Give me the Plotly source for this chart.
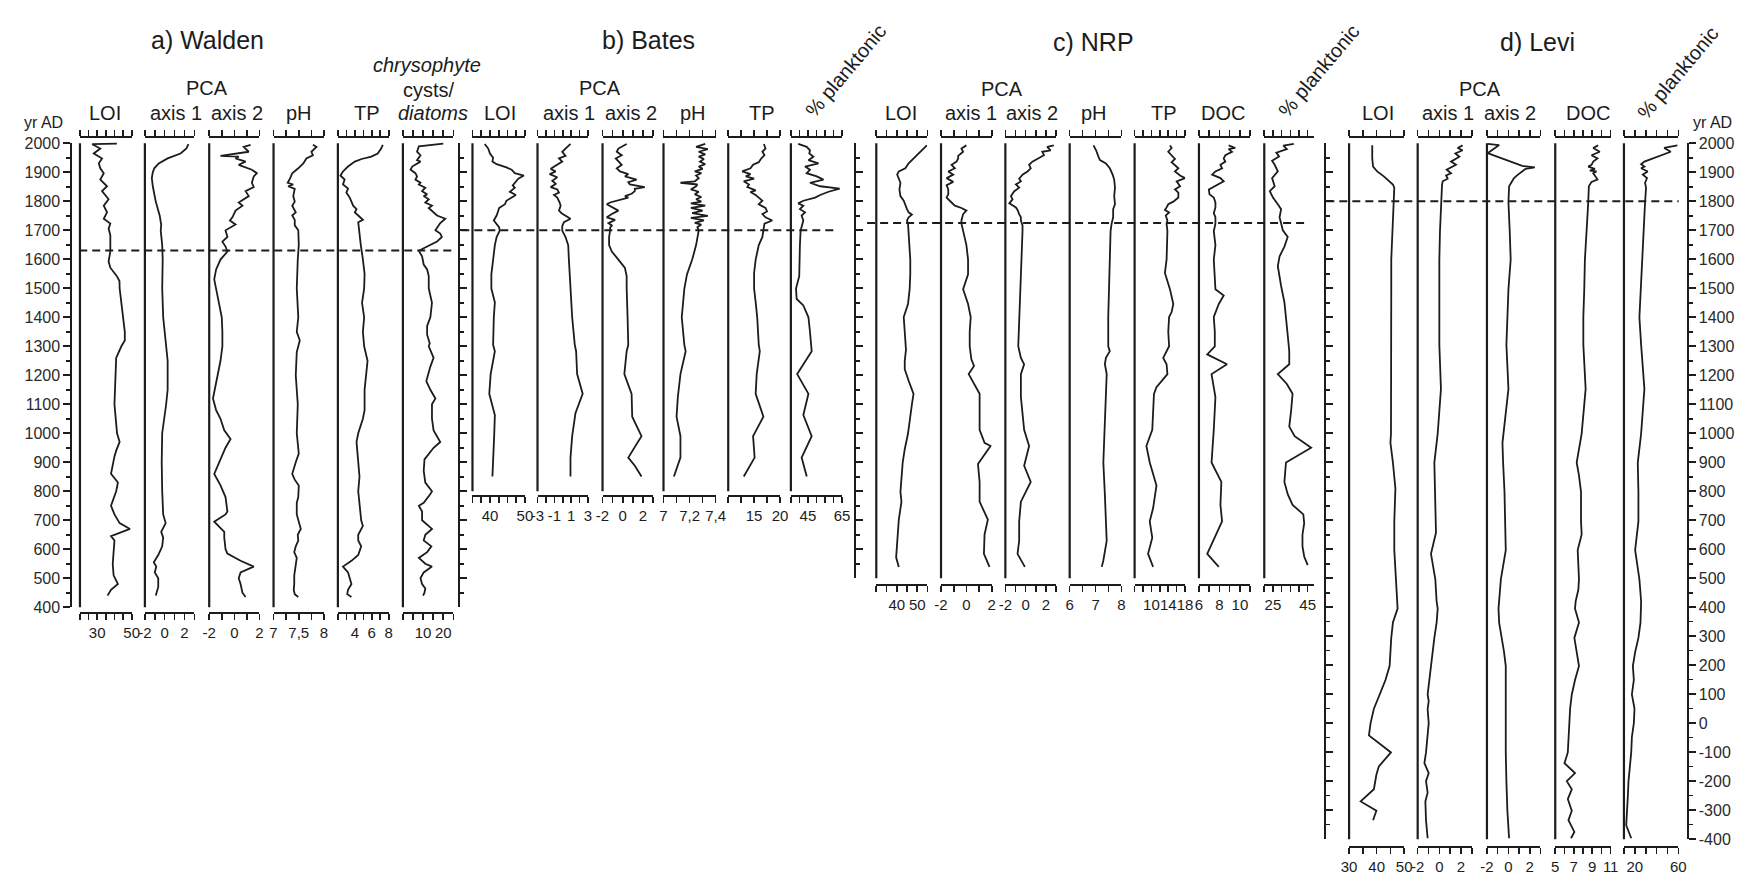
import plotly.graph_objects as go

W, H = 1753, 883
INK = "#1c1c1c"
FONT = "Liberation Sans, Arial, Helvetica, sans-serif"

# ---------------------------------------------------------------- data
# a) Walden
WALDEN_LOI_YR = [1999, 1997, 1982, 1965, 1948, 1931, 1914, 1897, 1875, 1852, 1835, 1807, 1785, 1762, 1740, 1723, 1706, 1683, 1627, 1593,
                 1571, 1542, 1525, 1500, 1450, 1400, 1350, 1320, 1300, 1260, 1200, 1100, 1000, 970, 940, 920, 860, 830, 800, 750,
                 720, 690, 670, 645, 630, 600, 550, 510, 480, 460, 440]
WALDEN_LOI = [41.4, 27.1, 31.8, 28.0, 32.8, 30.9, 31.8, 33.8, 31.8, 35.7, 32.8, 36.6, 33.8, 35.7, 33.8, 37.6, 36.6, 37.6, 37.6, 36.6,
              37.6, 41.4, 42.9, 43.0, 44.0, 45.0, 46.0, 46.0, 44.0, 41.0, 40.5, 40.0, 41.5, 43.0, 41.0, 40.0, 38.0, 42.0, 41.0, 38.0,
              40.0, 43.0, 49.0, 38.0, 40.0, 39.5, 39.0, 39.5, 42.0, 38.0, 36.0]
WALDEN_PCA1_YR = [1997, 1982, 1965, 1948, 1931, 1914, 1900, 1880, 1852, 1799, 1750, 1719, 1699, 1649, 1600, 1500, 1400, 1300, 1250, 1150,
                  1100, 1000, 900, 800, 720, 690, 660, 640, 610, 580, 555, 540, 520, 500, 470, 440]
WALDEN_PCA1 = [2.4, 2.2, 1.6, 0.3, -0.6, -1.05, -1.2, -1.3, -1.2, -0.9, -0.5, -0.35, -0.4, -0.25, -0.2, -0.25, -0.15, 0.1, 0.3, 0.3,
               0.15, -0.25, -0.3, -0.25, -0.15, 0.1, -0.35, -0.15, -0.25, -0.65, -1.1, -0.85, -1.0, -0.65, -0.65, -0.9]
WALDEN_PCA2_YR = [1995, 1988, 1971, 1962, 1957, 1954, 1948, 1937, 1926, 1909, 1897, 1886, 1864, 1849, 1835, 1818, 1796, 1785, 1768, 1745,
                  1734, 1720, 1700, 1677, 1661, 1644, 1627, 1599, 1565, 1531, 1499, 1450, 1400, 1350, 1300, 1250, 1200, 1120, 1080, 1050,
                  1010, 980, 950, 900, 860, 820, 780, 730, 720, 695, 660, 640, 600, 585, 560, 540, 520, 500, 480, 450, 435]
WALDEN_PCA2 = [1.3, 0.75, 1.15, -0.35, -1.1, 0.35, 0.1, 0.9, 0.35, 1.4, 1.8, 1.55, 1.4, 1.55, 0.9, 1.15, 0.35, 0.65, 0.1, -0.15,
               -0.35, 0.1, -0.7, -0.55, -0.95, -0.7, -0.55, -1.1, -1.45, -1.6, -1.45, -1.2, -1.0, -0.95, -0.95, -1.1, -1.35, -1.7, -1.45, -1.1,
               -0.8, -0.3, -0.7, -1.2, -1.6, -1.1, -0.7, -0.55, -0.7, -1.6, -0.8, -0.8, -0.7, -0.55, 0.5, 1.55, 0.5, 0.35, 0.5, 0.65, 0.9]
WALDEN_PH_YR = [1995, 1988, 1971, 1959, 1948, 1931, 1914, 1905, 1897, 1880, 1869, 1864, 1858, 1852, 1843, 1818, 1799, 1785, 1762, 1751,
                1736, 1717, 1700, 1650, 1600, 1500, 1400, 1350, 1320, 1280, 1200, 1100, 1000, 960, 930, 900, 860, 840, 820, 780,
                760, 720, 700, 670, 650, 630, 610, 590, 570, 540, 510, 480, 460, 445, 435]
WALDEN_PH = [7.78, 7.85, 7.75, 7.78, 7.65, 7.59, 7.49, 7.42, 7.37, 7.33, 7.29, 7.28, 7.39, 7.29, 7.42, 7.39, 7.42, 7.37, 7.44, 7.37,
             7.42, 7.42, 7.49, 7.5, 7.48, 7.46, 7.49, 7.46, 7.52, 7.46, 7.44, 7.48, 7.46, 7.49, 7.5, 7.44, 7.37, 7.42, 7.5, 7.49,
             7.46, 7.46, 7.49, 7.54, 7.48, 7.49, 7.44, 7.41, 7.46, 7.44, 7.41, 7.41, 7.4, 7.42, 7.49]
WALDEN_TP_YR = [1995, 1982, 1965, 1954, 1946, 1937, 1920, 1903, 1889, 1875, 1858, 1844, 1830, 1813, 1799, 1785, 1773, 1762, 1751, 1736,
                1728, 1711, 1689, 1650, 1600, 1550, 1500, 1450, 1400, 1350, 1300, 1280, 1250, 1150, 1080, 1050, 1000, 970, 900, 850,
                800, 750, 700, 680, 650, 630, 610, 580, 560, 540, 520, 500, 480, 460, 445, 435]
WALDEN_TP = [7.3, 7.1, 6.7, 5.95, 4.8, 4.0, 3.2, 2.6, 2.3, 2.8, 2.6, 3.2, 3.0, 3.4, 3.6, 3.8, 4.2, 4.0, 4.4, 4.95,
             4.4, 4.45, 4.55, 4.7, 4.95, 5.15, 5.1, 4.85, 5.1, 4.95, 5.1, 5.25, 5.5, 5.15, 5.15, 4.95, 4.4, 4.2, 4.4, 4.55,
             4.4, 4.55, 4.75, 4.95, 4.4, 4.4, 4.75, 4.4, 3.6, 2.6, 3.2, 3.4, 3.6, 3.2, 3.1, 3.6]
WALDEN_CHRYSO_YR = [1999, 1990, 1971, 1959, 1942, 1937, 1920, 1909, 1897, 1886, 1875, 1864, 1858, 1847, 1835, 1824, 1818, 1807, 1796, 1785,
                    1777, 1762, 1751, 1740, 1725, 1700, 1689, 1677, 1661, 1638, 1629, 1610, 1582, 1565, 1542, 1500, 1450, 1400, 1370, 1340,
                    1310, 1300, 1260, 1230, 1180, 1150, 1120, 1100, 1050, 1010, 970, 950, 910, 870, 830, 800, 790, 760, 750, 730,
                    700, 670, 650, 630, 610, 590, 570, 550, 540, 520, 500, 480, 465, 450, 440]
WALDEN_CHRYSO = [20.0, 7.9, 7.0, 8.7, 7.0, 8.7, 4.6, 3.8, 6.2, 7.0, 6.2, 8.7, 7.9, 11.1, 9.5, 12.0, 10.3, 12.8, 11.1, 14.4,
                 12.8, 15.2, 16.9, 21.0, 18.5, 16.1, 18.5, 19.3, 16.9, 10.3, 7.9, 9.5, 10.3, 12.0, 12.8, 12.8, 14.4, 13.6, 12.0, 12.0,
                 13.3, 12.8, 15.2, 13.6, 11.6, 13.6, 16.1, 14.4, 14.4, 15.2, 18.5, 15.2, 10.7, 10.3, 11.1, 14.4, 13.6, 10.3, 7.9, 9.5,
                 9.5, 14.4, 11.1, 10.3, 14.1, 12.0, 7.9, 11.1, 14.4, 10.3, 8.7, 9.5, 11.1, 10.7, 10.0]

# b) Bates
BATES_LOI_YR = [1998, 1982, 1965, 1950, 1937, 1928, 1917, 1909, 1897, 1889, 1878, 1864, 1855, 1847, 1833, 1822, 1813, 1802, 1790, 1777,
                1768, 1751, 1734, 1723, 1711, 1699, 1677, 1649, 1599, 1548, 1499, 1452, 1400, 1350, 1305, 1283, 1204, 1136, 1063, 990,
                916, 851]
BATES_LOI = [38.5, 39.5, 40.0, 40.9, 40.7, 41.9, 44.7, 46.2, 47.1, 49.7, 48.1, 47.1, 46.5, 47.1, 45.7, 47.4, 46.2, 44.7, 44.3, 42.6,
             42.4, 41.9, 41.1, 41.9, 42.6, 42.8, 41.9, 41.4, 40.9, 40.4, 40.4, 41.4, 41.1, 40.9, 40.9, 41.4, 40.2, 39.8, 41.4, 41.2,
             40.9, 40.7]
BATES_PCA1_YR = [1998, 1982, 1971, 1957, 1948, 1937, 1923, 1912, 1903, 1894, 1883, 1871, 1860, 1849, 1841, 1830, 1822, 1813, 1796, 1785,
                 1768, 1759, 1740, 1728, 1714, 1699, 1677, 1649, 1599, 1499, 1400, 1305, 1283, 1204, 1136, 1069, 990, 916, 851]
BATES_PCA1 = [0.92, 0.33, -0.06, 0.33, -0.45, -0.06, -0.84, -1.43, -0.84, -1.55, -0.65, -1.24, -0.84, -1.43, -0.65, -0.45, -1.04, -0.65, -0.37, -0.25,
              -0.45, -0.14, 0.92, 0.14, -0.06, -0.06, 0.33, 0.65, 0.73, 0.92, 1.12, 1.43, 1.59, 1.71, 2.37, 1.51, 1.12, 0.92, 0.92]
BATES_PCA2_YR = [1998, 1982, 1971, 1959, 1948, 1937, 1926, 1914, 1903, 1894, 1886, 1875, 1866, 1858, 1849, 1843, 1835, 1826, 1818, 1813,
                 1804, 1796, 1790, 1779, 1768, 1756, 1745, 1736, 1725, 1717, 1709, 1699, 1677, 1649, 1627, 1599, 1570, 1542, 1499, 1400,
                 1305, 1283, 1204, 1136, 1057, 990, 916, 888, 851]
BATES_PCA2 = [0.39, -0.43, -0.59, -0.10, -0.69, -0.43, -0.10, -0.59, -0.27, 0.55, 0.22, 1.37, 0.55, 0.71, 2.18, 1.20, 1.20, 0.88, 0.22, 0.55,
              -0.43, -1.25, -1.58, -0.92, -0.43, -1.08, -1.58, -0.76, -1.41, -1.08, -1.25, -1.25, -1.35, -1.35, -1.08, -0.43, 0.22, 0.39, 0.39, 0.48,
              0.55, 0.39, 0.16, 0.88, 0.94, 1.86, 0.55, 1.20, 1.86]
BATES_PH_YR = [1998, 1988, 1980, 1971, 1962, 1954, 1946, 1937, 1928, 1920, 1912, 1903, 1897, 1889, 1880, 1869, 1864, 1858, 1852, 1841,
               1833, 1824, 1815, 1807, 1799, 1793, 1785, 1777, 1768, 1759, 1750, 1743, 1734, 1726, 1720, 1711, 1699, 1649, 1599, 1548,
               1499, 1400, 1305, 1283, 1204, 1125, 1057, 990, 916, 851]
BATES_PH = [7.32, 7.25, 7.34, 7.27, 7.32, 7.27, 7.31, 7.28, 7.32, 7.27, 7.30, 7.24, 7.29, 7.25, 7.27, 7.24, 7.13, 7.26, 7.25, 7.21,
            7.27, 7.24, 7.29, 7.25, 7.29, 7.21, 7.32, 7.21, 7.30, 7.22, 7.34, 7.21, 7.31, 7.24, 7.29, 7.26, 7.27, 7.25, 7.22, 7.18,
            7.16, 7.14, 7.16, 7.17, 7.13, 7.11, 7.10, 7.13, 7.13, 7.08]
BATES_TP_YR = [1998, 1982, 1971, 1959, 1946, 1935, 1926, 1914, 1903, 1894, 1886, 1878, 1869, 1858, 1849, 1838, 1832, 1822, 1813, 1802,
               1790, 1777, 1765, 1756, 1745, 1734, 1723, 1709, 1699, 1677, 1649, 1599, 1553, 1499, 1452, 1400, 1305, 1283, 1204, 1136,
               1057, 990, 916, 851]
BATES_TP = [16.9, 17.2, 16.6, 17.0, 16.3, 15.9, 14.8, 14.3, 12.7, 14.3, 13.4, 15.0, 13.0, 14.0, 13.7, 15.3, 14.3, 15.3, 15.9, 16.6,
            15.9, 17.2, 17.5, 16.6, 17.2, 18.5, 17.0, 16.9, 16.8, 16.6, 15.9, 15.3, 15.0, 15.0, 15.3, 15.6, 15.9, 16.1, 15.5, 15.3,
            16.8, 14.8, 15.1, 13.0]
BATES_PLANK_YR = [1998, 1988, 1976, 1965, 1954, 1942, 1931, 1920, 1909, 1897, 1886, 1875, 1864, 1852, 1844, 1833, 1822, 1813, 1802, 1793,
                  1785, 1773, 1762, 1751, 1734, 1711, 1699, 1649, 1599, 1542, 1499, 1463, 1441, 1400, 1350, 1305, 1283, 1204, 1136, 1063,
                  990, 916, 851]
BATES_PLANK = [39.3, 44.3, 46.2, 45.8, 48.2, 45.3, 51.2, 43.3, 46.2, 44.3, 50.2, 54.1, 46.2, 52.2, 63.6, 57.1, 52.2, 49.2, 42.3, 39.3,
               42.3, 40.3, 43.3, 41.3, 42.3, 41.3, 40.7, 40.3, 40.3, 39.9, 38.0, 38.4, 42.3, 45.3, 46.2, 46.6, 47.2, 38.7, 45.3, 42.3,
               47.2, 41.3, 44.3]

# c) NRP
NRP_LOI_YR = [1993, 1971, 1948, 1931, 1914, 1903, 1892, 1880, 1864, 1841, 1818, 1802, 1785, 1773, 1762, 1754, 1745, 1734, 1723, 1697,
              1649, 1599, 1548, 1497, 1446, 1401, 1350, 1300, 1288, 1249, 1221, 1181, 1136, 1100, 999, 945, 899, 798, 764, 702,
              597, 572, 539]
NRP_LOI = [54.7, 51.5, 48.2, 45.8, 44.2, 41.0, 40.2, 41.0, 41.8, 41.3, 41.8, 43.4, 44.2, 45.0, 45.8, 47.4, 45.8, 45.0, 45.5, 45.8,
           46.1, 46.6, 46.6, 46.3, 45.5, 43.4, 43.9, 44.2, 44.5, 43.9, 43.9, 45.8, 48.2, 47.4, 45.5, 43.9, 42.9, 41.8, 42.3, 41.0,
           40.2, 39.7, 41.0]
NRP_PCA1_YR = [1993, 1982, 1971, 1957, 1948, 1937, 1926, 1914, 1903, 1892, 1880, 1867, 1856, 1841, 1824, 1813, 1796, 1785, 1777, 1768,
               1756, 1734, 1723, 1697, 1649, 1599, 1548, 1497, 1446, 1401, 1350, 1300, 1255, 1232, 1204, 1136, 1012, 967, 956, 894,
               832, 764, 702, 651, 584, 539]
NRP_PCA1 = [0.0, -0.39, -0.26, -0.65, -0.65, -0.78, -1.17, -0.91, -1.43, -1.04, -1.56, -1.04, -1.56, -1.43, -1.43, -1.56, -1.17, -0.91, -0.39, 0.0,
            -0.26, -0.39, -0.39, -0.26, 0.0, 0.13, 0.13, -0.26, 0.13, 0.34, 0.26, 0.26, 0.39, 0.6, 0.18, 1.04, 1.04, 1.43, 1.9, 0.91,
            1.04, 1.04, 1.69, 1.43, 1.38, 1.82]
NRP_PCA2_YR = [1993, 1988, 1976, 1971, 1959, 1948, 1937, 1926, 1914, 1903, 1892, 1878, 1869, 1858, 1847, 1835, 1818, 1807, 1793, 1779,
               1770, 1756, 1745, 1734, 1717, 1697, 1599, 1497, 1401, 1300, 1260, 1238, 1204, 1125, 1012, 956, 888, 832, 764, 696,
               629, 584, 539]
NRP_PCA2 = [2.77, 2.12, 2.45, 1.64, 1.8, 1.15, 0.66, 0.34, 0.5, 0.18, -0.31, -0.64, -0.47, -0.96, -0.64, -1.12, -1.45, -1.29, -1.61, -0.96,
            -0.8, -0.64, -0.47, -0.47, -0.31, -0.31, -0.41, -0.54, -0.64, -0.73, -0.47, -0.15, -0.47, -0.47, -0.15, 0.34, -0.15, 0.5, -0.47, -0.64,
            -0.64, -0.8, -0.08]
NRP_PH_YR = [1993, 1976, 1954, 1942, 1931, 1914, 1892, 1875, 1847, 1818, 1790, 1773, 1745, 1723, 1697, 1599, 1497, 1401, 1300, 1283,
             1260, 1238, 1204, 1125, 1012, 899, 787, 674, 629, 561, 539]
NRP_PH = [6.92, 7.02, 7.11, 7.17, 7.4, 7.55, 7.66, 7.72, 7.75, 7.72, 7.75, 7.68, 7.68, 7.62, 7.58, 7.55, 7.52, 7.49, 7.49, 7.55,
          7.4, 7.36, 7.43, 7.39, 7.34, 7.3, 7.36, 7.4, 7.43, 7.3, 7.24]
NRP_TP_YR = [1993, 1984, 1971, 1959, 1946, 1935, 1923, 1914, 1903, 1889, 1880, 1869, 1852, 1841, 1830, 1813, 1799, 1790, 1779, 1770,
             1762, 1751, 1734, 1723, 1697, 1599, 1553, 1497, 1446, 1418, 1401, 1350, 1300, 1260, 1238, 1204, 1159, 1136, 1012, 956,
             899, 820, 742, 696, 640, 584, 539]
NRP_TP = [14.4, 14.8, 14.0, 14.8, 15.6, 14.8, 15.6, 16.4, 15.6, 16.8, 18.0, 16.0, 16.8, 15.6, 16.4, 16.4, 15.2, 14.0, 13.6, 13.2,
          14.2, 13.4, 13.8, 13.6, 13.8, 13.6, 13.2, 14.4, 15.2, 14.8, 14.2, 14.0, 14.2, 12.8, 13.6, 13.8, 11.2, 10.6, 10.2, 8.8,
          9.6, 11.2, 10.4, 9.6, 10.2, 9.2, 10.4]
NRP_DOC_YR = [1993, 1984, 1980, 1971, 1959, 1948, 1937, 1926, 1914, 1903, 1892, 1880, 1869, 1852, 1841, 1824, 1813, 1796, 1779, 1759,
              1745, 1723, 1697, 1649, 1599, 1497, 1475, 1446, 1401, 1350, 1300, 1272, 1238, 1204, 1125, 1012, 899, 832, 753, 696,
              584, 539]
NRP_DOC = [8.9, 9.55, 8.9, 9.23, 8.58, 8.42, 8.58, 8.1, 8.26, 7.61, 7.29, 8.1, 8.42, 7.61, 6.97, 7.03, 7.45, 7.61, 7.61, 7.45,
           7.61, 7.61, 7.45, 7.61, 7.45, 7.61, 8.42, 7.94, 7.45, 7.55, 7.55, 6.81, 8.74, 7.23, 7.61, 7.45, 7.23, 8.19, 8.1, 8.26,
           6.81, 7.94]
NRP_PLANK_YR = [1998, 1992, 1980, 1968, 1955, 1940, 1926, 1903, 1880, 1852, 1835, 1813, 1790, 1773, 1745, 1700, 1677, 1644, 1610, 1576,
                1508, 1452, 1339, 1283, 1238, 1204, 1170, 1136, 1080, 1023, 990, 950, 899, 860, 832, 790, 753, 720, 690, 650,
                610, 575, 545]
NRP_PLANK = [37.0, 31.0, 33.0, 27.0, 28.5, 24.5, 26.0, 27.8, 24.5, 26.0, 23.2, 25.0, 27.8, 29.7, 28.8, 30.7, 33.5, 31.6, 28.8, 27.8,
             29.7, 31.6, 33.5, 34.4, 34.4, 27.8, 33.0, 36.3, 35.5, 34.4, 37.5, 47.0, 32.5, 32.0, 31.6, 33.5, 36.3, 42.5, 43.0, 42.0,
             42.0, 43.0, 45.0]

# d) Levi
LEVI_LOI_YR = [1993, 1948, 1920, 1903, 1886, 1869, 1858, 1847, 1796, 1697, 1599, 1497, 1400, 1305, 1202, 1100, 999, 967, 899, 809,
               696, 597, 496, 420, 395, 347, 294, 197, 149, 99, 50, 0, -42, -101, -149, -178, -228, -270, -302, -335]
LEVI_LOI = [38.4, 38.4, 38.7, 40.2, 42.6, 44.4, 45.9, 46.4, 46.2, 45.7, 45.3, 45.3, 45.3, 45.3, 45.2, 45.2, 45.2, 45.0, 45.9, 46.8,
            46.4, 46.4, 47.1, 47.6, 47.6, 45.9, 45.3, 44.7, 43.2, 41.1, 39.0, 37.8, 37.2, 45.2, 40.8, 39.9, 39.0, 34.2, 39.9, 38.7]
LEVI_PCA1_YR = [1993, 1984, 1976, 1965, 1954, 1942, 1937, 1926, 1914, 1909, 1897, 1889, 1878, 1869, 1858, 1796, 1697, 1599, 1497, 1400,
                1305, 1153, 999, 899, 696, 657, 584, 496, 420, 395, 347, 294, 197, 99, 76, 48, 0, -48, -101, -138,
                -172, -200, -240, -270, -335, -397]
LEVI_PCA1 = [2.15, 1.69, 2.15, 1.48, 1.85, 1.23, 1.08, 1.54, 0.92, 0.68, 1.08, 0.62, 0.77, 0.31, 0.25, 0.15, 0.06, 0.0, 0.0, -0.06,
             0.0, 0.15, -0.15, -0.46, -0.37, -0.31, -0.77, -0.37, -0.25, -0.15, -0.25, -0.46, -0.77, -1.08, -0.98, -1.08, -0.98, -1.08, -1.23, -1.38,
             -0.98, -1.23, -1.08, -1.29, -1.23, -1.08]
LEVI_PCA2_YR = [1998, 1994, 1966, 1922, 1917, 1912, 1892, 1880, 1852, 1796, 1697, 1599, 1497, 1400, 1305, 1153, 1057, 967, 899, 798,
                696, 597, 496, 420, 395, 347, 294, 245, 197, 99, 0, -101, -200, -302, -397]
LEVI_PCA2 = [-1.94, -0.86, -1.94, 1.3, 2.48, 1.61, 0.9, 0.53, 0.07, 0.01, 0.13, 0.22, 0.01, -0.09, -0.18, 0.01, -0.3, -0.55, -0.49, -0.36,
             -0.3, -0.24, -0.7, -0.86, -0.92, -0.86, -0.61, -0.4, -0.24, -0.24, -0.3, -0.24, -0.18, -0.09, 0.07]
LEVI_DOC_YR = [1993, 1984, 1971, 1959, 1948, 1937, 1926, 1920, 1912, 1906, 1903, 1897, 1886, 1875, 1867, 1852, 1796, 1697, 1599, 1497,
               1400, 1305, 1153, 999, 899, 854, 798, 696, 651, 597, 496, 460, 420, 395, 347, 294, 245, 197, 149, 99,
               50, 0, -48, -101, -138, -172, -200, -228, -262, -302, -335, -375, -397]
LEVI_DOC = [9.64, 9.11, 9.82, 8.93, 9.57, 9.11, 8.93, 8.57, 9.29, 8.75, 9.46, 9.11, 9.36, 9.57, 8.93, 8.64, 8.57, 8.39, 8.21, 8.14,
            8.04, 8.04, 8.29, 7.86, 7.32, 7.57, 7.79, 7.79, 7.86, 7.43, 7.57, 7.5, 7.21, 7.14, 7.57, 7.07, 7.32, 7.57, 7.14, 6.79,
            6.61, 6.5, 6.43, 6.36, 6.0, 7.14, 6.25, 6.79, 6.36, 6.79, 6.43, 7.07, 6.71]
LEVI_PLANK_YR = [1993, 1984, 1971, 1959, 1946, 1937, 1928, 1920, 1914, 1903, 1892, 1880, 1864, 1847, 1796, 1697, 1599, 1497, 1400, 1305,
                 1153, 999, 899, 798, 696, 597, 496, 420, 395, 347, 294, 245, 197, 149, 99, 50, 0, -48, -101, -149,
                 -200, -251, -302, -352, -397]
LEVI_PLANK = [59.1, 47.0, 53.0, 43.9, 34.8, 28.8, 25.8, 28.8, 25.8, 31.8, 27.3, 31.2, 29.4, 30.3, 29.4, 28.2, 26.4, 25.8, 24.2, 25.8,
              28.8, 25.8, 22.7, 23.3, 23.3, 20.3, 24.2, 25.8, 25.8, 25.2, 23.3, 20.3, 18.2, 19.1, 17.3, 19.7, 19.1, 17.3, 16.7, 15.2,
              14.2, 13.6, 13.0, 12.1, 16.7]

# zone boundaries (yr AD) marked by dashed lines
WALDEN_ZONE, BATES_ZONE, NRP_ZONE, LEVI_ZONE = 1630, 1700, 1725, 1800

# ---------------------------------------------------------------- layout geometry (pixels)
PX_PER_YR = 0.2956
Y2000_PX = 138.0
TOP_PX = 133.0


def ypx(year):
    return Y2000_PX + (2000 - year) * PX_PER_YR


def yr_at(px):
    return 2000 - (px - Y2000_PX) / PX_PER_YR


# column: (years, values, (x0, x1) px, axis range, (first tick, last tick, step), labelled ticks)
PANELS = [
    dict(bottom=400, scale_px=616, year_axis="walden", zone=WALDEN_ZONE, dash=(72, 452), cols=[
        (WALDEN_LOI_YR, WALDEN_LOI, (72.7, 125.0), (20, 50), (20, 50, 5), [30, 50]),
        (WALDEN_PCA1_YR, WALDEN_PCA1, (138.3, 188.3), (-2, 3), (-2, 3, 1), [-2, 0, 2]),
        (WALDEN_PCA2_YR, WALDEN_PCA2, (203.3, 254.0), (-2, 2), (-2, 2, 1), [-2, 0, 2]),
        (WALDEN_PH_YR, WALDEN_PH, (268.3, 319.3), (7, 8), (7, 8, 0.25), [7, 7.5, 8]),
        (WALDEN_TP_YR, WALDEN_TP, (333.3, 384.7), (2, 8), (2, 8, 1), [4, 6, 8]),
        (WALDEN_CHRYSO_YR, WALDEN_CHRYSO, (399.0, 450.0), (0, 25), (0, 25, 5), [10, 20]),
    ]),
    dict(bottom=800, scale_px=497, year_axis="bates", zone=BATES_ZONE, dash=(458, 834), cols=[
        (BATES_LOI_YR, BATES_LOI, (469.3, 522.3), (35, 50), (35, 50, 2.5), [40, 50]),
        (BATES_PCA1_YR, BATES_PCA1, (535.0, 586.0), (-3, 3), (-3, 3, 1), [-3, -1, 1, 3]),
        (BATES_PCA2_YR, BATES_PCA2, (600.7, 651.7), (-2, 3), (-2, 3, 1), [-2, 0, 2]),
        (BATES_PH_YR, BATES_PH, (662.3, 715.0), (7, 7.4), (7, 7.4, 0.1), [7, 7.2, 7.4]),
        (BATES_TP_YR, BATES_TP, (727.7, 780.0), (10, 20), (10, 20, 2.5), [15, 20]),
        (BATES_PLANK_YR, BATES_PLANK, (791.0, 842.7), (35, 65), (35, 65, 5), [45, 65]),
    ]),
    dict(bottom=500, scale_px=587, year_axis="nrp", zone=NRP_ZONE, dash=(868, 1310), cols=[
        (NRP_LOI_YR, NRP_LOI, (877.3, 929.0), (30, 55), (30, 55, 5), [40, 50]),
        (NRP_PCA1_YR, NRP_PCA1, (942.7, 994.0), (-2, 2), (-2, 2, 1), [-2, 0, 2]),
        (NRP_PCA2_YR, NRP_PCA2, (1007.7, 1059.0), (-2, 3), (-2, 3, 1), [-2, 0, 2]),
        (NRP_PH_YR, NRP_PH, (1072.7, 1125.0), (6, 8), (6, 8, 0.5), [6, 7, 8]),
        (NRP_TP_YR, NRP_TP, (1138.3, 1189.3), (6, 18), (6, 18, 2), [10, 14, 18]),
        (NRP_DOC_YR, NRP_DOC, (1203.3, 1255.0), (6, 11), (6, 11, 1), [6, 8, 10]),
        (NRP_PLANK_YR, NRP_PLANK, (1269.3, 1319.3), (20, 48.5), (20, 45, 5), [25, 45]),
    ]),
    dict(bottom=-400, scale_px=854, year_axis="levi", zone=LEVI_ZONE, dash=(1332, 1688), cols=[
        (LEVI_LOI_YR, LEVI_LOI, (1355.0, 1410.7), (30, 50), (30, 50, 5), [30, 40, 50]),
        (LEVI_PCA1_YR, LEVI_PCA1, (1424.3, 1479.0), (-2, 3), (-2, 3, 1), [-2, 0, 2]),
        (LEVI_PCA2_YR, LEVI_PCA2, (1494.3, 1548.3), (-2, 3), (-2, 3, 1), [-2, 0, 2]),
        (LEVI_DOC_YR, LEVI_DOC, (1563.3, 1619.3), (5, 11), (5, 11, 1), [5, 7, 9, 11]),
        (LEVI_PLANK_YR, LEVI_PLANK, (1632.7, 1687.7), (10, 60), (10, 60, 10), [20, 60]),
    ]),
]

# age scales; "overlay" ones share the vertical extent of another scale
YEAR_AXES = [
    dict(key="walden", x=65.0, bottom=400, side="left", ticks="outside", labels=True),
    dict(key="bates", x=457.0, bottom=400, side="left", ticks="inside", labels=False),
    dict(key="nrp", x=857.0, bottom=500, side="left", ticks="inside", labels=False),
    dict(key="levi", x=1332.0, bottom=-400, side="left", ticks="inside", labels=False),
    dict(key="levi_r", x=1697.0, bottom=-400, side="right", ticks="outside", labels=True, overlay="levi"),
]

# (text, x px, y px, font size, angle)
TEXTS = [
    ("a) Walden", 202, 33, 25, 0), ("b) Bates", 647, 33, 25, 0), ("c) NRP", 1097, 35, 25, 0), ("d) Levi", 1545, 35, 25, 0),
    ("yr AD", 36, 117, 16, 0), ("yr AD", 1722, 117, 16, 0),
    ("LOI", 98, 107, 20, 0), ("PCA", 201, 82, 20, 0), ("axis 1", 170, 107, 20, 0), ("axis 2", 231, 107, 20, 0),
    ("pH", 294, 107, 20, 0), ("TP", 363, 107, 20, 0),
    ("<i>chrysophyte</i>", 423, 58, 20, 0), ("cysts/", 425, 84, 20, 0), ("<i>diatoms</i>", 429, 107, 20, 0),
    ("LOI", 497, 107, 20, 0), ("PCA", 598, 82, 20, 0), ("axis 1", 567, 107, 20, 0), ("axis 2", 629, 107, 20, 0),
    ("pH", 692, 107, 20, 0), ("TP", 762, 107, 20, 0), ("% planktonic", 846, 64, 20, -50),
    ("LOI", 902, 107, 20, 0), ("PCA", 1004, 83, 20, 0), ("axis 1", 973, 107, 20, 0), ("axis 2", 1035, 107, 20, 0),
    ("pH", 1097, 107, 20, 0), ("TP", 1168, 107, 20, 0), ("DOC", 1228, 107, 20, 0), ("% planktonic", 1324, 64, 20, -50),
    ("LOI", 1384, 107, 20, 0), ("PCA", 1487, 83, 20, 0), ("axis 1", 1455, 107, 20, 0), ("axis 2", 1518, 107, 20, 0),
    ("DOC", 1596, 107, 20, 0), ("% planktonic", 1687, 66, 20, -50),
]


def fmt(v):
    return f"{v:g}".replace(".", ",")


def col_ticks(t0, t1, dt, labelled):
    n = int(round((t1 - t0) / dt))
    vals = [round(t0 + i * dt, 6) for i in range(n + 1)]
    text = [fmt(v) if any(abs(v - l) < 1e-6 for l in labelled) else "" for v in vals]
    return vals, text


def aid(letter, n):
    return letter if n == 1 else f"{letter}{n}"


def lkey(letter, n):
    return f"{letter}axis" if n == 1 else f"{letter}axis{n}"


fig = go.Figure()
layout = dict(
    width=W, height=H, margin=dict(l=0, r=0, t=0, b=0),
    paper_bgcolor="white", plot_bgcolor="white", showlegend=False,
    font=dict(family=FONT, color=INK),
)
shapes, annotations = [], []
n = 0

for panel in PANELS:
    ydom = [1 - panel["scale_px"] / H, 1 - TOP_PX / H]
    yrng = [yr_at(panel["scale_px"]), yr_at(TOP_PX)]
    for yrs, vals, (x0, x1), rng, (t0, t1, dt), labelled in panel["cols"]:
        n += 1
        tv, tt = col_ticks(t0, t1, dt, labelled)
        fig.add_trace(go.Scatter(
            x=vals, y=yrs, xaxis=aid("x", n), yaxis=aid("y", n), mode="lines",
            line=dict(color=INK, width=1.8), hoverinfo="skip", showlegend=False,
        ))
        layout[lkey("x", n)] = dict(
            domain=[x0 / W, x1 / W], range=list(rng), anchor=aid("y", n),
            tickmode="array", tickvals=tv, ticktext=tt, tickangle=0,
            ticks="outside", ticklen=6, tickwidth=1.6, tickcolor=INK,
            showline=True, linewidth=2, linecolor=INK, mirror="ticks",
            showgrid=False, zeroline=False, tickfont=dict(size=15, color=INK), fixedrange=True,
        )
        layout[lkey("y", n)] = dict(
            domain=ydom, range=yrng, anchor=aid("x", n), visible=False, fixedrange=True,
        )
        # the column's zero line running the length of the core
        shapes.append(dict(
            type="line", xref=f"{aid('x', n)} domain", x0=0, x1=0,
            yref=aid("y", n), y0=panel["bottom"], y1=2000,
            line=dict(color=INK, width=2.2),
        ))

year_ref = {}
for ya in YEAR_AXES:
    n += 1
    xf = ya["x"] / W
    major = list(range(ya["bottom"], 2001, 100))
    minor = list(range(ya["bottom"] + 50, 2000, 100))
    yax = dict(
        range=[ya["bottom"], 2000], side=ya["side"], showline=True, linewidth=2, linecolor=INK,
        ticks=ya["ticks"], ticklen=7, tickwidth=2, tickcolor=INK,
        tickmode="array", tickvals=major, ticktext=[str(v) for v in major],
        showticklabels=ya["labels"], tickfont=dict(size=16, color="#2a2a2a"),
        minor=dict(tickmode="array", tickvals=minor, ticks=ya["ticks"], ticklen=4, tickwidth=1.6, tickcolor=INK),
        showgrid=False, zeroline=False, fixedrange=True,
    )
    if "overlay" in ya:
        base_x, base_y = year_ref[ya["overlay"]]
        yax.update(overlaying=base_y, anchor="free", position=xf)
        xid = base_x
    else:
        layout[lkey("x", n)] = dict(domain=[xf, xf + 0.0005], range=[0, 1], visible=False,
                                    anchor=aid("y", n), fixedrange=True)
        yax.update(domain=[1 - ypx(ya["bottom"]) / H, 1 - Y2000_PX / H], anchor=aid("x", n))
        xid = aid("x", n)
    layout[lkey("y", n)] = yax
    year_ref[ya["key"]] = (xid, aid("y", n))
    # empty trace so the scale is attached to a subplot
    fig.add_trace(go.Scatter(x=[None], y=[None], xaxis=xid, yaxis=aid("y", n), mode="lines",
                             hoverinfo="skip", showlegend=False))

for panel in PANELS:
    xa, xb = panel["dash"]
    shapes.append(dict(
        type="line", xref="paper", x0=xa / W, x1=xb / W,
        yref=year_ref[panel["year_axis"]][1], y0=panel["zone"], y1=panel["zone"],
        line=dict(color=INK, width=2, dash="8px,5px"),
    ))

for text, x, y, size, angle in TEXTS:
    annotations.append(dict(
        text=text, x=x / W, y=1 - y / H, xref="paper", yref="paper",
        xanchor="center", yanchor="middle", showarrow=False, textangle=angle,
        font=dict(family=FONT, size=size, color=INK),
    ))

layout["shapes"] = shapes
layout["annotations"] = annotations
fig.update_layout(**layout)

fig.write_html("out.html", config={"staticPlot": True})
